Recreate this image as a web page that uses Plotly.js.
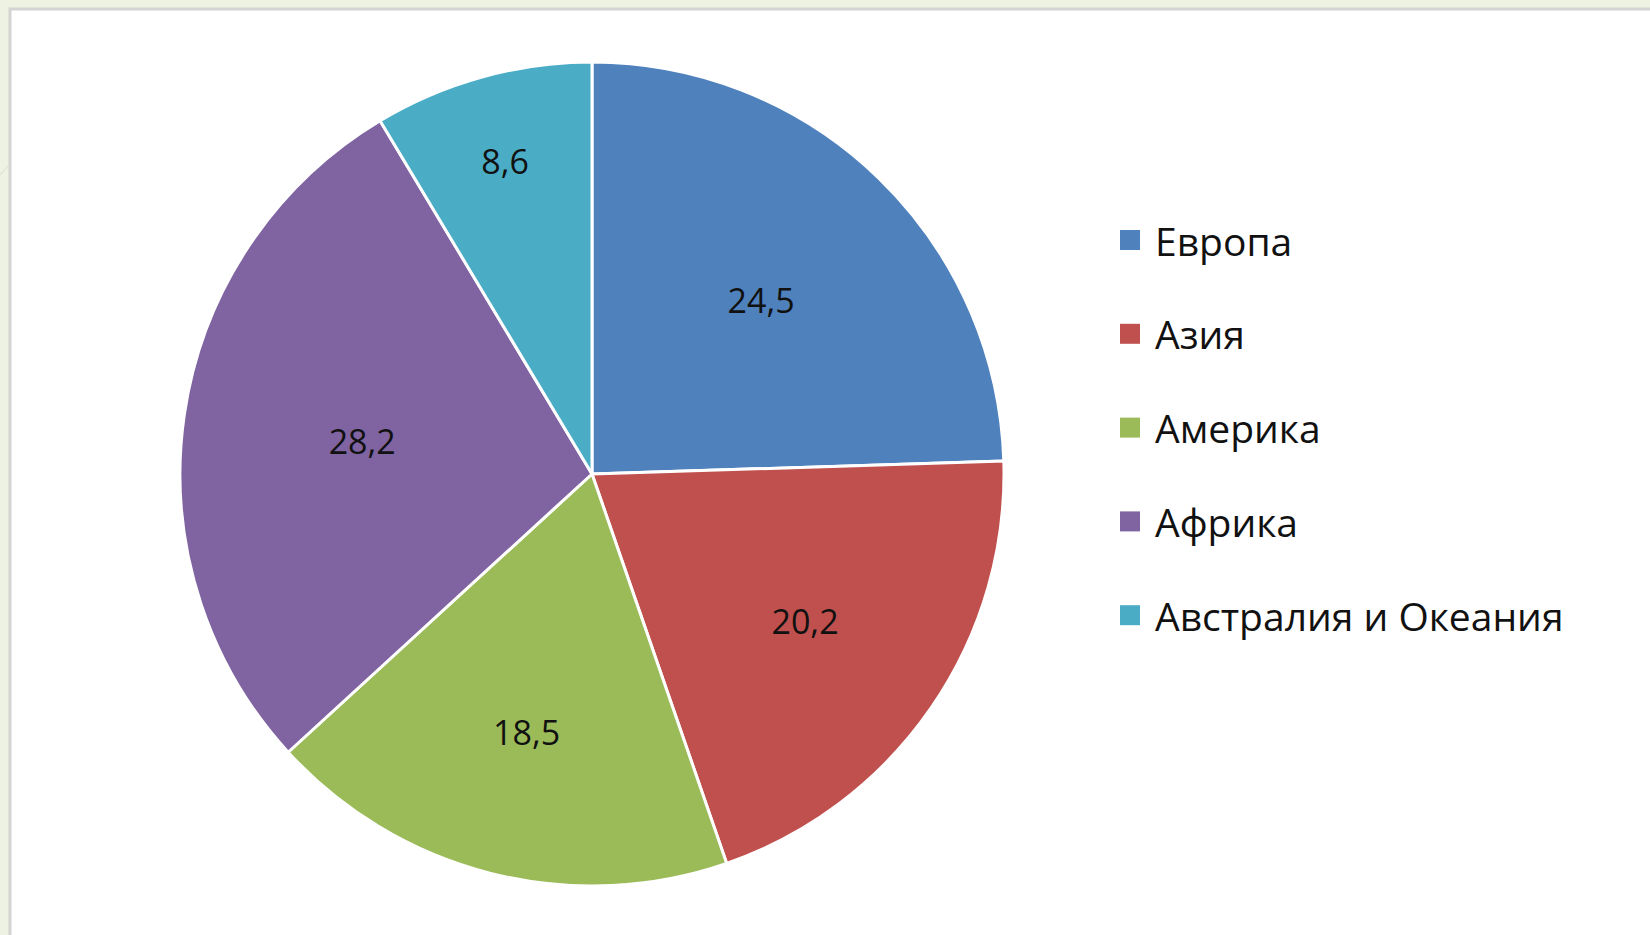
<!DOCTYPE html>
<html>
<head>
<meta charset="utf-8">
<script src="https://cdn.plot.ly/plotly-3.0.1.min.js"></script>
<style>html,body{margin:0;padding:0;background:#eef2e2;}#chart{width:1650px;height:935px;}</style>
</head>
<body>
<div id="chart"></div>
<script>
const categories = ["Европа", "Азия", "Америка", "Африка", "Австралия и Океания"];
const values = [24.5, 20.2, 18.5, 28.2, 8.6];
const colors = ["#4F81BD", "#C0504D", "#9BBB59", "#8064A2", "#4BACC6"];

const W = 1650, H = 935;
const cx = 592, cy = 474, r = 412;
const px = x => x / W;
const py = y => 1 - y / H;

const trace = {
  type: "pie",
  labels: categories,
  values: values,
  sort: false,
  direction: "clockwise",
  rotation: 0,
  marker: { colors: colors, line: { color: "#ffffff", width: 3 } },
  texttemplate: "%{value:.1f}",
  textposition: "inside",
  insidetextorientation: "horizontal",
  textfont: { family: "Open Sans, sans-serif", size: 34, color: "#111111" },
  hoverinfo: "label+value",
  showlegend: false,
  domain: { x: [px(cx - r), px(cx + r)], y: [py(cy + r), py(cy - r)] }
};

const shapes = [
  { type: "rect", xref: "paper", yref: "paper", x0: px(10), x1: 1.02, y0: -0.02, y1: py(9),
    fillcolor: "#ffffff", line: { color: "#d4d4d4", width: 3 }, layer: "below" },
  { type: "line", xref: "paper", yref: "paper", x0: 0, y0: py(175), x1: px(9), y1: py(165),
    line: { color: "#d8dccb", width: 1 }, layer: "below" }
];
const annotations = [];
const legendY0 = 240, legendStep = 93.8;
categories.forEach((c, i) => {
  const yc = legendY0 + i * legendStep;
  shapes.push({ type: "rect", xref: "paper", yref: "paper",
    x0: px(1120), x1: px(1140), y0: py(yc + 10), y1: py(yc - 10),
    fillcolor: colors[i], line: { width: 0 } });
  annotations.push({ xref: "paper", yref: "paper", x: px(1153), y: py(yc),
    xanchor: "left", yanchor: "middle", showarrow: false, text: c,
    font: { family: "Open Sans, sans-serif", size: 39, color: "#111111" } });
});

const layout = {
  width: W, height: H,
  margin: { l: 0, r: 0, t: 0, b: 0 },
  paper_bgcolor: "#eef2e2",
  separators: ", ",
  showlegend: false,
  shapes: shapes,
  annotations: annotations
};

Plotly.newPlot("chart", [trace], layout, { displayModeBar: false, staticPlot: true });
</script>
</body>
</html>
